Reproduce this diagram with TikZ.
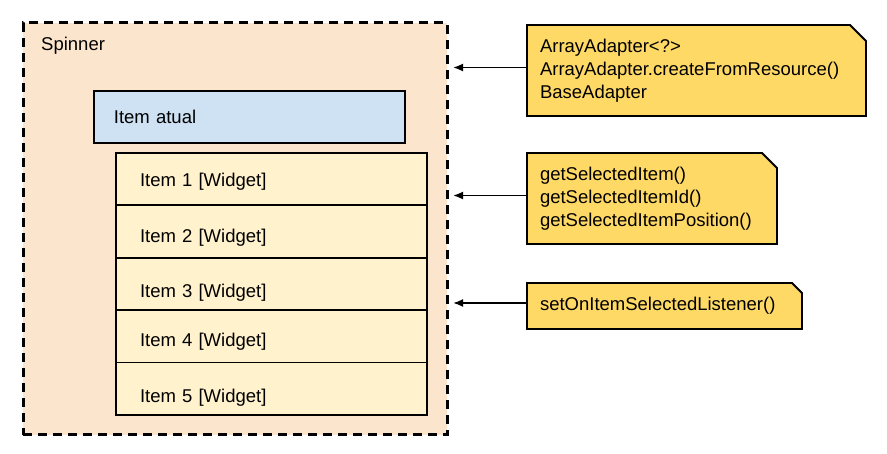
\documentclass[tikz,border=0pt]{standalone}
\usepackage{fontspec}
\setmainfont{Liberation Sans}
\usetikzlibrary{arrows.meta,positioning,backgrounds}
\definecolor{spinnerfill}{HTML}{FCE5CD}
\definecolor{currentfill}{HTML}{CFE2F3}
\definecolor{itemfill}{HTML}{FFF2CC}
\definecolor{notefill}{HTML}{FFD966}
\newcommand{\dogear}[2]{%
  \filldraw[line width=1.8pt,fill=notefill,line join=miter] (#1.south west) -- (#1.north west)
    -- ([xshift=-#2]#1.north east) -- ([yshift=-#2]#1.north east) -- (#1.south east) -- cycle;}
\tikzset{
  rowbox/.style={draw,line width=1.8pt,fill=itemfill,outer sep=0pt,minimum width=311pt,
    minimum height=52.4pt,inner xsep=24pt,text width=263pt,align=left},
  notebox/.style={anchor=north west,outer sep=0pt,inner xsep=13pt,align=left},
  hook/.style={->,line width=1.8pt,shorten >=6pt}
}
\begin{document}
\begin{tikzpicture}[x=1pt,y=-1pt,>={Latex[length=10pt,width=8pt]},font=\fontsize{18.5}{23}\selectfont]
\useasboundingbox (0,0) rectangle (887,454);
% spinner frame
\node[draw,fill=spinnerfill,line width=3pt,dash pattern=on 9pt off 6pt,minimum width=424pt,
  minimum height=412pt,anchor=north west,outer sep=0pt] (spinner) at (23,23) {};
\node[anchor=west,inner sep=0pt] (spinnerlabel) at (41,46) {Spinner};
\node[draw,line width=1.8pt,fill=currentfill,minimum width=311pt,minimum height=52pt,
  inner xsep=20pt,text width=271pt,align=left,anchor=north west] (current) at (93,90) {Item atual};
% item list
\node[rowbox,anchor=north west] (item1) at (116,153) {\raisebox{-7pt}[0pt][0pt]{Item 1 [Widget]}};
\foreach \i/\dy [remember=\i as \prev (initially 1)] in {2/11,3/14,4/10,5/14}
  \node[rowbox,below=0pt of item\prev] (item\i) {\raisebox{-\dy pt}[0pt][0pt]{Item \i\ [Widget]}};
% notes
\node[notebox,minimum width=339pt,minimum height=91pt,text width=313pt] (adapters) at (527,25)
  {ArrayAdapter<?>\\ArrayAdapter.createFromResource()\\BaseAdapter};
\node[notebox,minimum width=250pt,minimum height=91pt,text width=224pt] (getters) at (527,153)
  {getSelectedItem()\\getSelectedItemId()\\getSelectedItemPosition()};
\node[notebox,minimum width=275pt,minimum height=46pt,text width=249pt] (listener) at (527,283)
  {setOnItemSelectedListener()};
\begin{scope}[on background layer]
  \dogear{adapters}{16pt}
  \dogear{getters}{15pt}
  \dogear{listener}{10pt}
\end{scope}
% connectors
\draw[hook] ([yshift=3pt]adapters.west) -- ([yshift=3pt]adapters.west -| spinner.east);
\draw[hook] ([yshift=3pt]getters.west) -- ([yshift=3pt]getters.west -| spinner.east);
\draw[hook] ([yshift=3pt]listener.west) -- ([yshift=3pt]listener.west -| spinner.east);
\end{tikzpicture}
\end{document}
